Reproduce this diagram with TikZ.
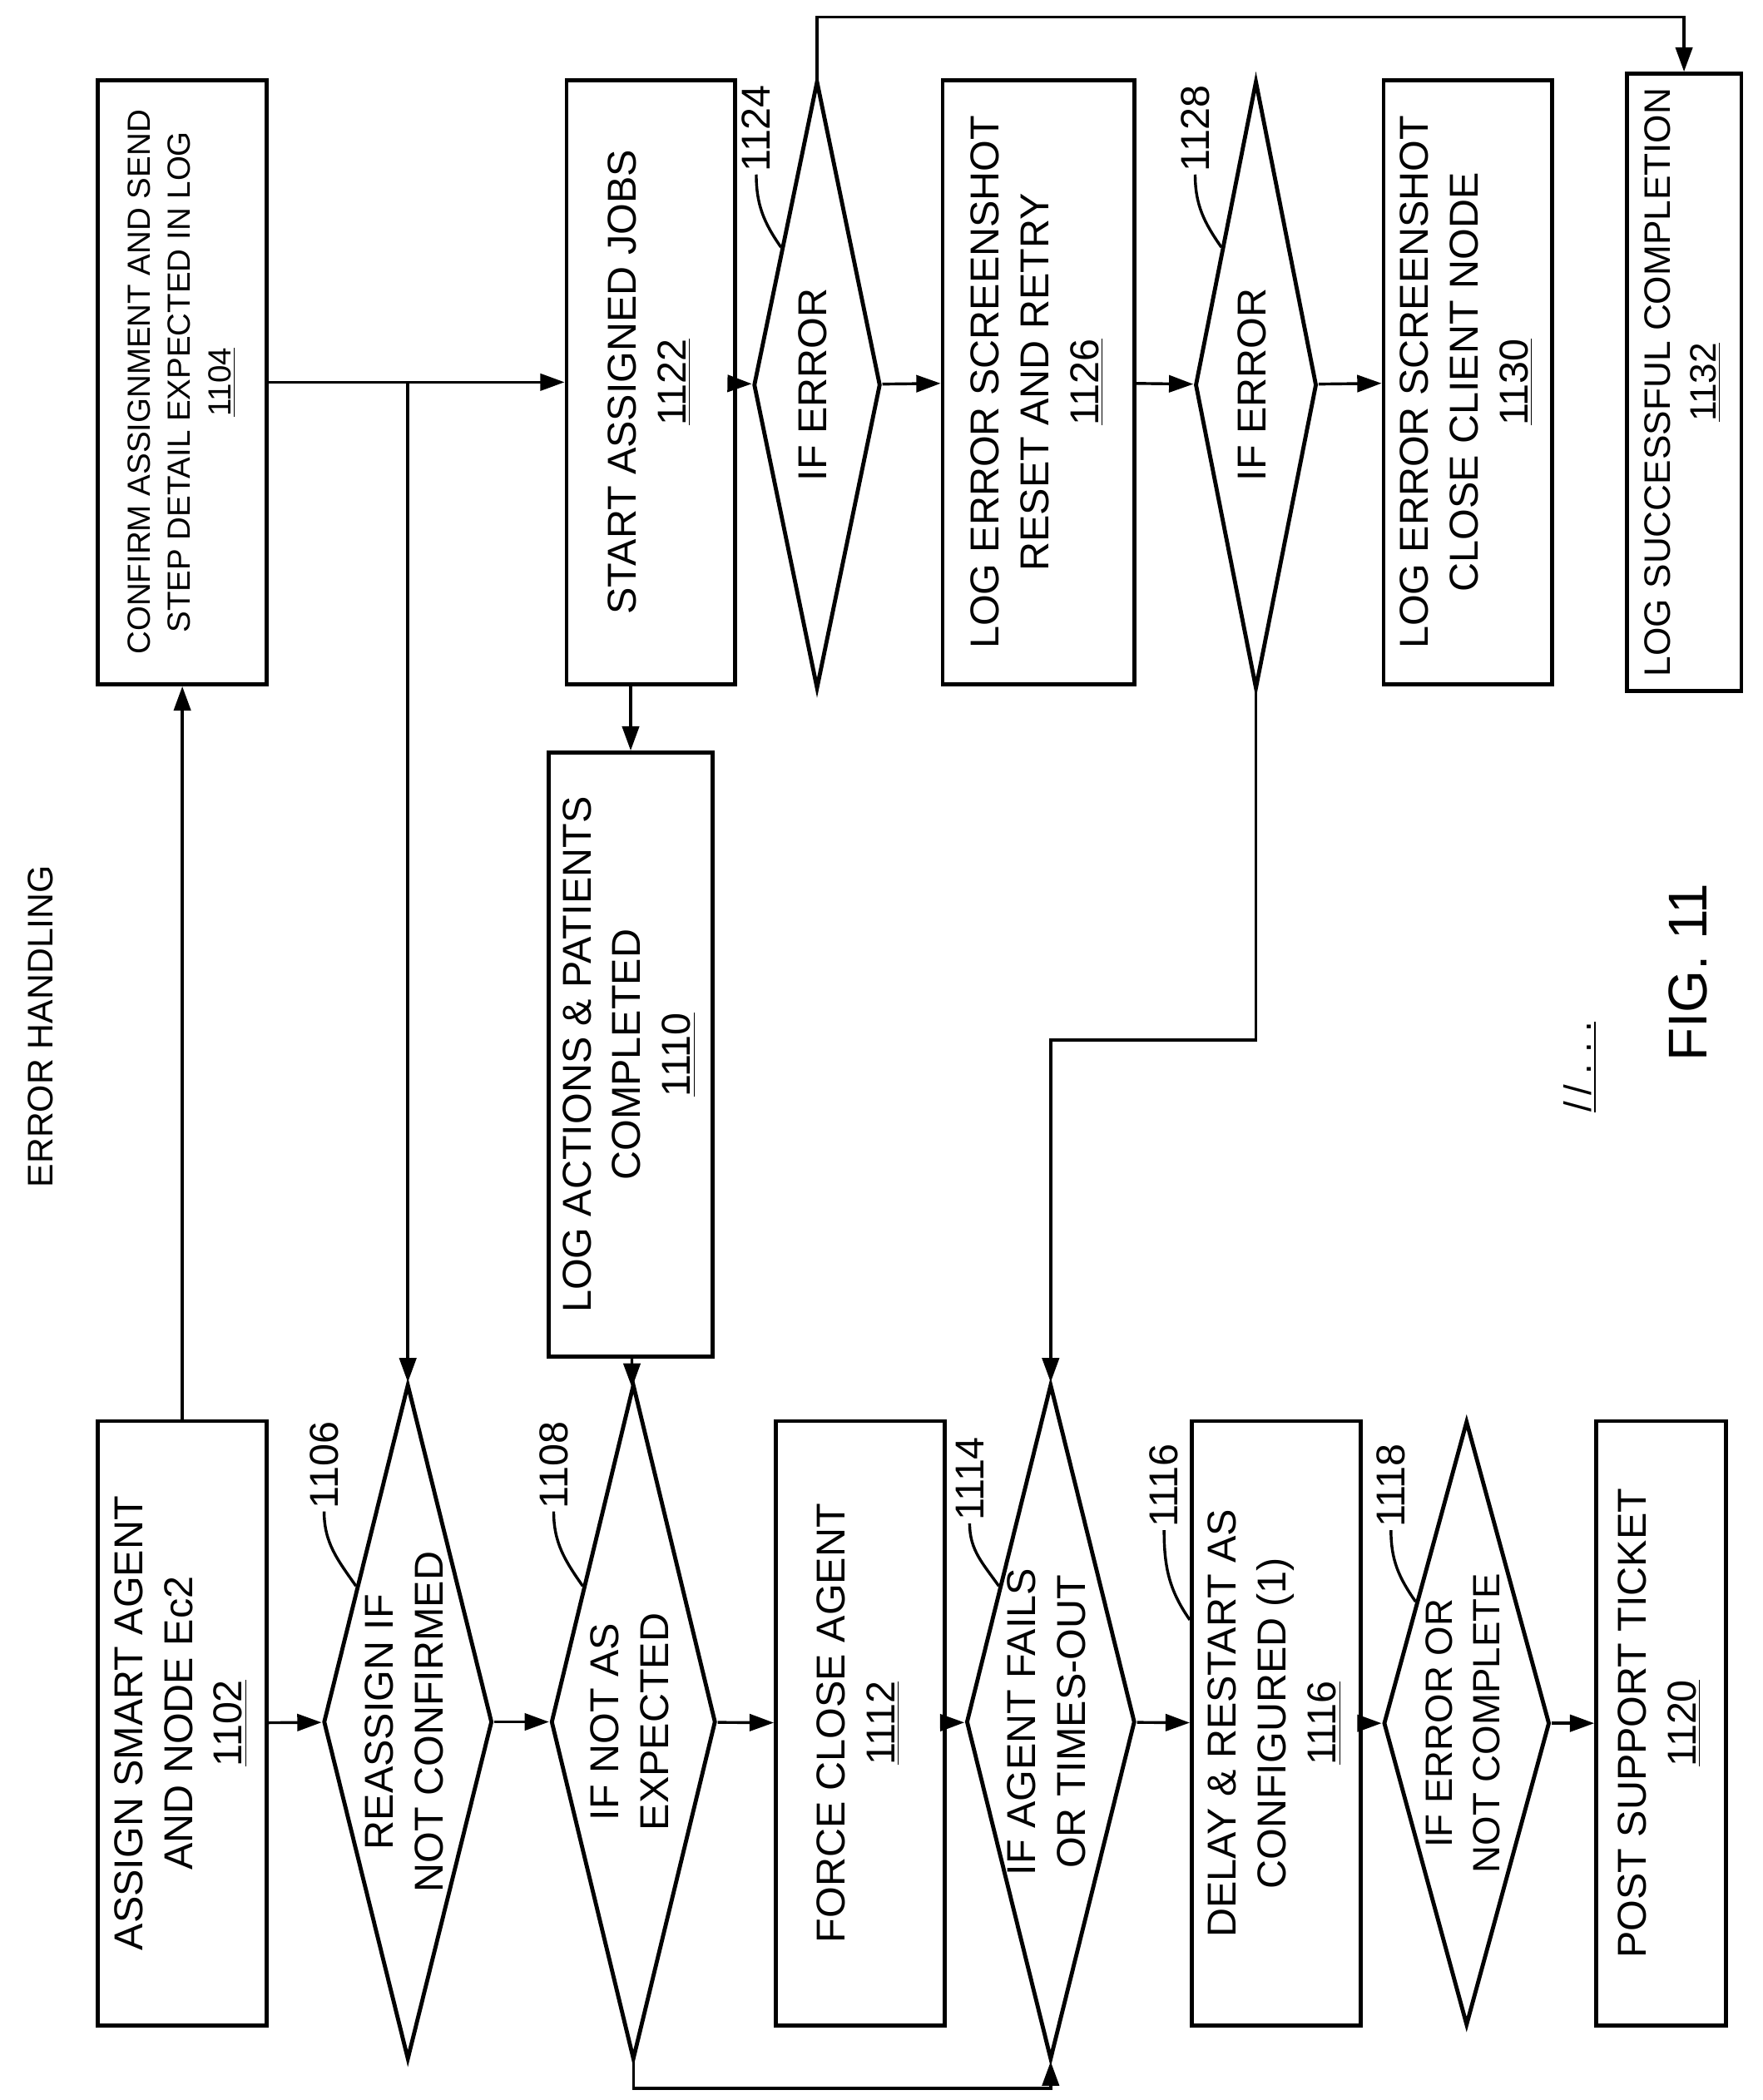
\documentclass[tikz,border=0pt]{standalone}
\usepackage{fontspec}
\setmainfont{Liberation Sans}
\usetikzlibrary{shapes.geometric,arrows.meta,calc}
\newcommand*{\boxW}{2.5cm}
\newcommand*{\boxH}{8.95cm}
\newcommand*{\diaH}{10cm}
\newcommand*{\rtext}[1]{\rotatebox{90}{\begin{tabular}{c}#1\end{tabular}}}
\begin{document}
\begin{tikzpicture}[x=0.02cm,y=-0.02cm,
    box/.style={rectangle, draw, line width=1.7pt, minimum width=\boxW, minimum height=\boxH, inner sep=0pt, font=\fontsize{17}{21}\selectfont},
    dia/.style={diamond, draw, line width=1.7pt, shape aspect=0.25, minimum width=\boxW, minimum height=\diaH, inner sep=0pt, label={[font=\fontsize{17}{21}\selectfont]center:\rtext{#1}}},
    num/.style={font=\fontsize{17}{20}\selectfont, inner sep=1pt},
    lead/.style={line width=1.2pt},
    arr/.style={line width=1.2pt, -{Triangle[length=0.36cm,width=0.25cm]}}]

    \useasboundingbox (0,0) rectangle (1305,1555);

    % left column of steps
    \node[box] (b1102) at (135,1276) {\rtext{ASSIGN SMART AGENT\\AND NODE Ec2\\\underline{1102}}};
    \node[box, font=\fontsize{13.5}{17}\selectfont] (b1104) at (135,283) {\rtext{CONFIRM ASSIGNMENT AND SEND\\STEP DETAIL EXPECTED IN LOG\\\underline{1104}}};
    \node[dia={REASSIGN IF\\NOT CONFIRMED}] (d1106) at (302,1275) {};
    \node[dia={IF NOT AS\\EXPECTED}, minimum width=2.44cm] (d1108) at (469,1275) {};
    \node[box, minimum width=2.42cm] (b1110) at (467,781) {\rtext{LOG ACTIONS \& PATIENTS\\COMPLETED\\\underline{1110}}};
    \node[box] (b1112) at (637,1276) {\rtext{FORCE CLOSE AGENT\\\underline{1112}}};
    \node[dia={IF AGENT FAILS\\OR TIMES-OUT}] (d1114) at (778,1275) {};
    \node[box] (b1116) at (945,1276) {\rtext{DELAY \& RESTART AS\\CONFIGURED (1)\\\underline{1116}}};
    \node[diamond, draw, line width=1.7pt, shape aspect=0.25, inner sep=0pt, minimum width=2.46cm, minimum height=\boxH,
          label={[font=\fontsize{16}{20}\selectfont]center:\rtext{IF ERROR OR\\NOT COMPLETE}}] (d1118) at (1086,1276) {};
    \node[box, minimum width=1.92cm] (b1120) at (1230,1276) {\rtext{POST SUPPORT TICKET\\\underline{1120}}};

    % top row of steps
    \node[box] (b1122) at (482,283) {\rtext{START ASSIGNED JOBS\\\underline{1122}}};
    \node[dia={IF ERROR}, minimum width=1.88cm, minimum height=9cm] (d1124) at (605,285) {};
    \node[box, minimum width=2.84cm] (b1126) at (769,283) {\rtext{LOG ERROR SCREENSHOT\\RESET AND RETRY\\\underline{1126}}};
    \node[dia={IF ERROR}, minimum width=1.8cm, minimum height=9cm] (d1128) at (930,285) {};
    \node[box] (b1130) at (1087,283) {\rtext{LOG ERROR SCREENSHOT\\CLOSE CLIENT NODE\\\underline{1130}}};
    \node[box, minimum width=1.7cm, font=\fontsize{15.5}{19}\selectfont] (b1132) at (1247,283) {\rtext{LOG SUCCESSFUL COMPLETION\\\underline{1132}}};

    % titles
    \node[font=\fontsize{15}{18}\selectfont, rotate=90] (title) at (30,760) {ERROR HANDLING};
    \node[font=\fontsize{23}{27}\selectfont, rotate=90] (fig) at (1250,720) {FIG. 11};
    \node[font=\fontsize{16}{19}\selectfont, rotate=90] (dots) at (1170,790) {\underline{/\,/\;.\;.\;.}};

    % reference numerals
    \node[num, rotate=90] (n1106) at (240,1085) {1106};
    \node[num, rotate=90] (n1108) at (410,1085) {1108};
    \node[num, rotate=90] (n1114) at (718,1095) {1114};
    \node[num, rotate=90] (n1116) at (862,1100) {1116};
    \node[num, rotate=90] (n1118) at (1030,1100) {1118};
    \node[num, rotate=90] (n1124) at (560,95) {1124};
    \node[num, rotate=90] (n1128) at (885,95) {1128};

    \draw[lead] (n1106.west) to[out=-90,in=125] ($(d1106.west)!0.4!(d1106.north)$);
    \draw[lead] (n1108.west) to[out=-90,in=125] ($(d1108.west)!0.4!(d1108.north)$);
    \draw[lead] (n1114.west) to[out=-90,in=125] ($(d1114.west)!0.4!(d1114.north)$);
    \draw[lead] (n1116.west) to[out=-90,in=125] ($(b1116.north west)!0.33!(b1116.south west)$);
    \draw[lead] (n1118.west) to[out=-90,in=125] ($(d1118.west)!0.4!(d1118.north)$);
    \draw[lead] (n1124.west) to[out=-90,in=125] ($(d1124.west)!0.45!(d1124.north)$);
    \draw[lead] (n1128.west) to[out=-90,in=125] ($(d1128.west)!0.45!(d1128.north)$);

    % connectors
    \draw[arr] (b1102) -- (d1106);
    \draw[arr] (d1106) -- (d1108);
    \draw[arr] (d1108) -- (b1112);
    \draw[arr] (b1112) -- (d1114);
    \draw[arr] (d1114) -- (b1116);
    \draw[arr] (b1116) -- (d1118);
    \draw[arr] (d1118) -- (b1120);
    \draw[arr] (b1102) -- (b1104);
    \draw[arr] (b1104) -- (b1122);
    \coordinate (br) at (d1106.north |- b1104.east);
    \draw[arr] (br) -- (d1106.north);
    \draw[arr] (b1110.north |- b1122.south) -- (b1110.north);
    \draw[arr] (b1110) -- (d1108);
    \draw[arr] (d1108.south) -- ++(0,20) -| (d1114.south);
    \draw[arr] (b1122) -- (d1124);
    \draw[arr] (d1124) -- (b1126);
    \draw[arr] (b1126) -- (d1128);
    \draw[arr] (d1128) -- (b1130);
    \draw[arr] (d1124.north) -- ++(0,-46) -| (b1132.north);
    \draw[arr] (d1128.south) -- (d1128.south |- 0,770) -| (d1114.north);

\end{tikzpicture}
\end{document}
